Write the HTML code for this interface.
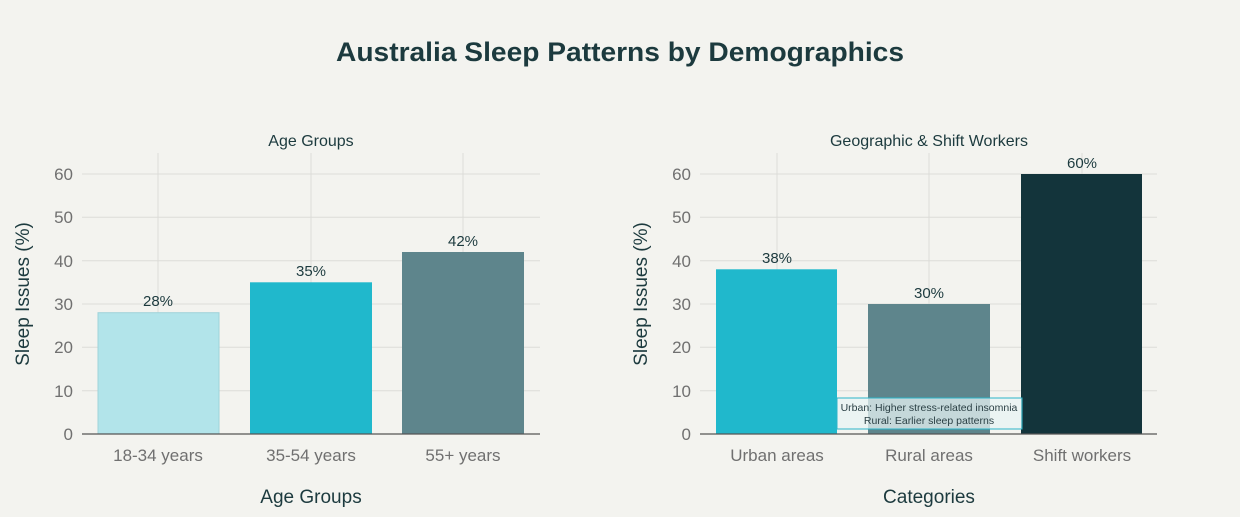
<!DOCTYPE html>
<html><head><style>body{margin:0;background:#f3f3ef}svg{display:block}text{font-family:"Liberation Sans",sans-serif}</style></head><body>
<svg width="1240" height="517" viewBox="0 0 1240 517">
<rect width="1240" height="517" fill="#f3f3ef"/>
<text x="620" y="61" text-anchor="middle" font-size="27" font-weight="bold" fill="#1c3a3e" textLength="568" lengthAdjust="spacingAndGlyphs">Australia Sleep Patterns by Demographics</text>
<g stroke="#dcdcd8" stroke-width="1">
<line x1="82" x2="540" y1="174" y2="174"/><line x1="82" x2="540" y1="217.3" y2="217.3"/><line x1="82" x2="540" y1="260.7" y2="260.7"/><line x1="82" x2="540" y1="304" y2="304"/><line x1="82" x2="540" y1="347.3" y2="347.3"/><line x1="82" x2="540" y1="390.7" y2="390.7"/>
<line x1="158" x2="158" y1="153" y2="434"/><line x1="311" x2="311" y1="153" y2="434"/><line x1="463" x2="463" y1="153" y2="434"/>
<line x1="700" x2="1157" y1="174" y2="174"/><line x1="700" x2="1157" y1="217.3" y2="217.3"/><line x1="700" x2="1157" y1="260.7" y2="260.7"/><line x1="700" x2="1157" y1="304" y2="304"/><line x1="700" x2="1157" y1="347.3" y2="347.3"/><line x1="700" x2="1157" y1="390.7" y2="390.7"/>
<line x1="777" x2="777" y1="153" y2="434"/><line x1="929" x2="929" y1="153" y2="434"/><line x1="1082" x2="1082" y1="153" y2="434"/>
</g>
<text x="311" y="146" text-anchor="middle" font-size="16" fill="#1c3a3e">Age Groups</text>
<text x="929" y="146" text-anchor="middle" font-size="16" fill="#1c3a3e">Geographic &amp; Shift Workers</text>
<rect x="98" y="312.7" width="121" height="121.3" fill="#b2e4ea" stroke="#9fd3da"/>
<rect x="250" y="282.3" width="122" height="151.7" fill="#20b8cc"/>
<rect x="402" y="252" width="122" height="182" fill="#5e858c"/>
<rect x="716" y="269.3" width="121" height="164.7" fill="#20b8cc"/>
<rect x="868" y="304" width="122" height="130" fill="#5e858c"/>
<rect x="1021" y="174" width="121" height="260" fill="#13343b"/>
<g font-size="15" fill="#1c3a3e" text-anchor="middle">
<text x="158" y="306">28%</text><text x="311" y="276">35%</text><text x="463" y="246">42%</text>
<text x="777" y="263">38%</text><text x="929" y="298">30%</text><text x="1082" y="168">60%</text>
</g>
<line x1="82" x2="540" y1="434" y2="434" stroke="#555" stroke-width="1.3"/>
<line x1="700" x2="1157" y1="434" y2="434" stroke="#555" stroke-width="1.3"/>
<g font-size="17" fill="#707070" text-anchor="end">
<text x="73" y="180">60</text><text x="73" y="223">50</text><text x="73" y="267">40</text><text x="73" y="310">30</text><text x="73" y="353">20</text><text x="73" y="397">10</text><text x="73" y="440">0</text>
<text x="691" y="180">60</text><text x="691" y="223">50</text><text x="691" y="267">40</text><text x="691" y="310">30</text><text x="691" y="353">20</text><text x="691" y="397">10</text><text x="691" y="440">0</text>
</g>
<g font-size="17" fill="#707070" text-anchor="middle">
<text x="158" y="461">18-34 years</text><text x="311" y="461">35-54 years</text><text x="463" y="461">55+ years</text>
<text x="777" y="461">Urban areas</text><text x="929" y="461">Rural areas</text><text x="1082" y="461">Shift workers</text>
</g>
<g font-size="19" fill="#1c3a3e" text-anchor="middle">
<text x="311" y="503">Age Groups</text><text x="929" y="503">Categories</text>
<text transform="translate(29,294) rotate(-90)">Sleep Issues (%)</text>
<text transform="translate(647,294) rotate(-90)">Sleep Issues (%)</text>
</g>
<rect x="837" y="398" width="185" height="31" fill="#e8f4f4" fill-opacity="0.75" stroke="#2bb5c8" stroke-width="1"/>
<text x="929" y="411" text-anchor="middle" font-size="10.5" fill="#2a3f44">Urban: Higher stress-related insomnia</text>
<text x="929" y="424" text-anchor="middle" font-size="10.5" fill="#2a3f44">Rural: Earlier sleep patterns</text>
</svg>
</body></html>
